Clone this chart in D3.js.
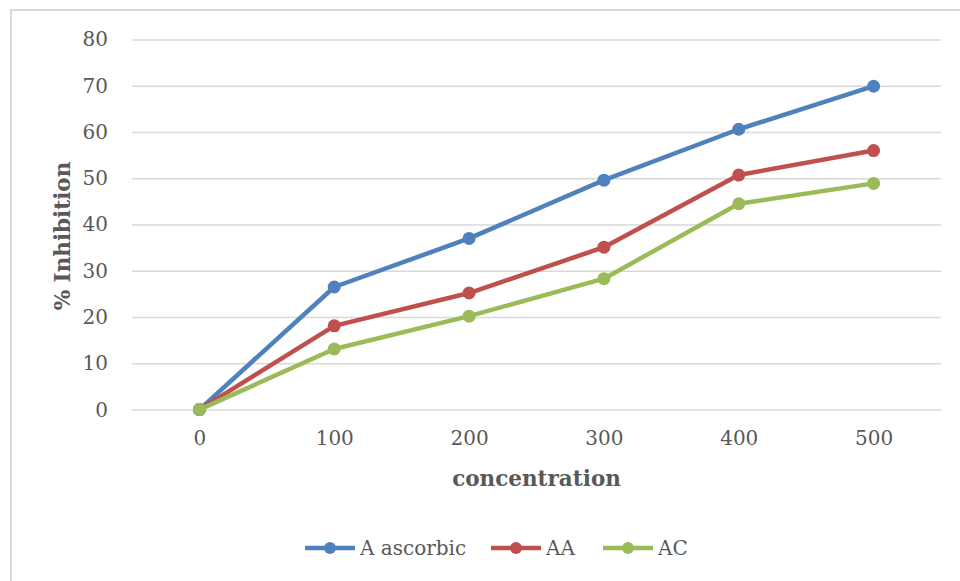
<!DOCTYPE html>
<html><head><meta charset="utf-8">
<script src="https://cdn.jsdelivr.net/npm/d3@7"></script>
<style>body{margin:0;background:#fff}svg{display:block}</style>
</head><body>
<svg id="c" width="960" height="581"></svg>
<script>
const categories = ["0","100","200","300","400","500"];
const seriesNames = ["A ascorbic","AA","AC"];
const ascorbic = [0, 26.5, 37, 49.6, 60.6, 69.9];
const aa = [0, 18.1, 25.2, 35.1, 50.7, 56];
const ac = [0, 13.1, 20.2, 28.3, 44.5, 48.9];
const yTicks = [0,10,20,30,40,50,60,70,80];
const colors = ["#4F81BD","#C0504D","#9BBB59"];
const allSeries = [ascorbic, aa, ac];

const font = "'DejaVu Serif', serif";
const svg = d3.select("#c");
svg.append("rect").attr("x",11).attr("y",10).attr("width",960).attr("height",600)
  .attr("fill","#fff").attr("stroke","#D9D9D9").attr("stroke-width",2);

const L=132, R=941, T=39.5, B=409.6;
const x = d3.scalePoint().domain(categories).range([L,R]).padding(0.5);
const y = d3.scaleLinear().domain([0,80]).range([B,T]);

const yAxis = svg.append("g").attr("transform",`translate(${L},0)`)
  .call(d3.axisLeft(y).tickValues(yTicks).tickSize(-(R-L)).tickPadding(24));
yAxis.select(".domain").remove();
yAxis.selectAll("line").attr("stroke","#D9D9D9").attr("stroke-width",1.5);
yAxis.selectAll("text").attr("fill","#595959").style("font-family",font).style("font-size","20px");

const xAxis = svg.append("g").attr("transform",`translate(0,${B})`)
  .call(d3.axisBottom(x).tickSize(0).tickPadding(21));
xAxis.select(".domain").remove();
xAxis.selectAll("text").attr("fill","#595959").style("font-family",font).style("font-size","20px");

svg.append("text").attr("x",(L+R)/2).attr("y",486).attr("text-anchor","middle")
  .attr("fill","#595959").style("font-family",font).style("font-size","21.5px").style("font-weight","bold")
  .text("concentration");
svg.append("text").attr("transform","translate(70,236) rotate(-90)").attr("text-anchor","middle")
  .attr("fill","#595959").style("font-family",font).style("font-size","21.5px").style("font-weight","bold")
  .text("% Inhibition");

const line = d3.line().x((d,i)=>x(categories[i])).y(d=>y(d));
allSeries.forEach((s,k)=>{
  const g = svg.append("g");
  g.append("path").datum(s).attr("d",line).attr("fill","none")
    .attr("stroke",colors[k]).attr("stroke-width",4.5).attr("stroke-linejoin","round");
  g.selectAll("circle").data(s).join("circle")
    .attr("cx",(d,i)=>x(categories[i])).attr("cy",d=>y(d)).attr("r",6.5).attr("fill",colors[k]);
});

const legX = [305, 491, 603];
seriesNames.forEach((n,k)=>{
  const g = svg.append("g").attr("transform",`translate(${legX[k]},548)`);
  g.append("line").attr("x1",0).attr("x2",50).attr("stroke",colors[k]).attr("stroke-width",4.5);
  g.append("circle").attr("cx",25).attr("r",6).attr("fill",colors[k]);
  g.append("text").attr("x",55).attr("y",7).attr("fill","#595959")
    .style("font-family",font).style("font-size","20px").text(n);
});
</script>
</body></html>
